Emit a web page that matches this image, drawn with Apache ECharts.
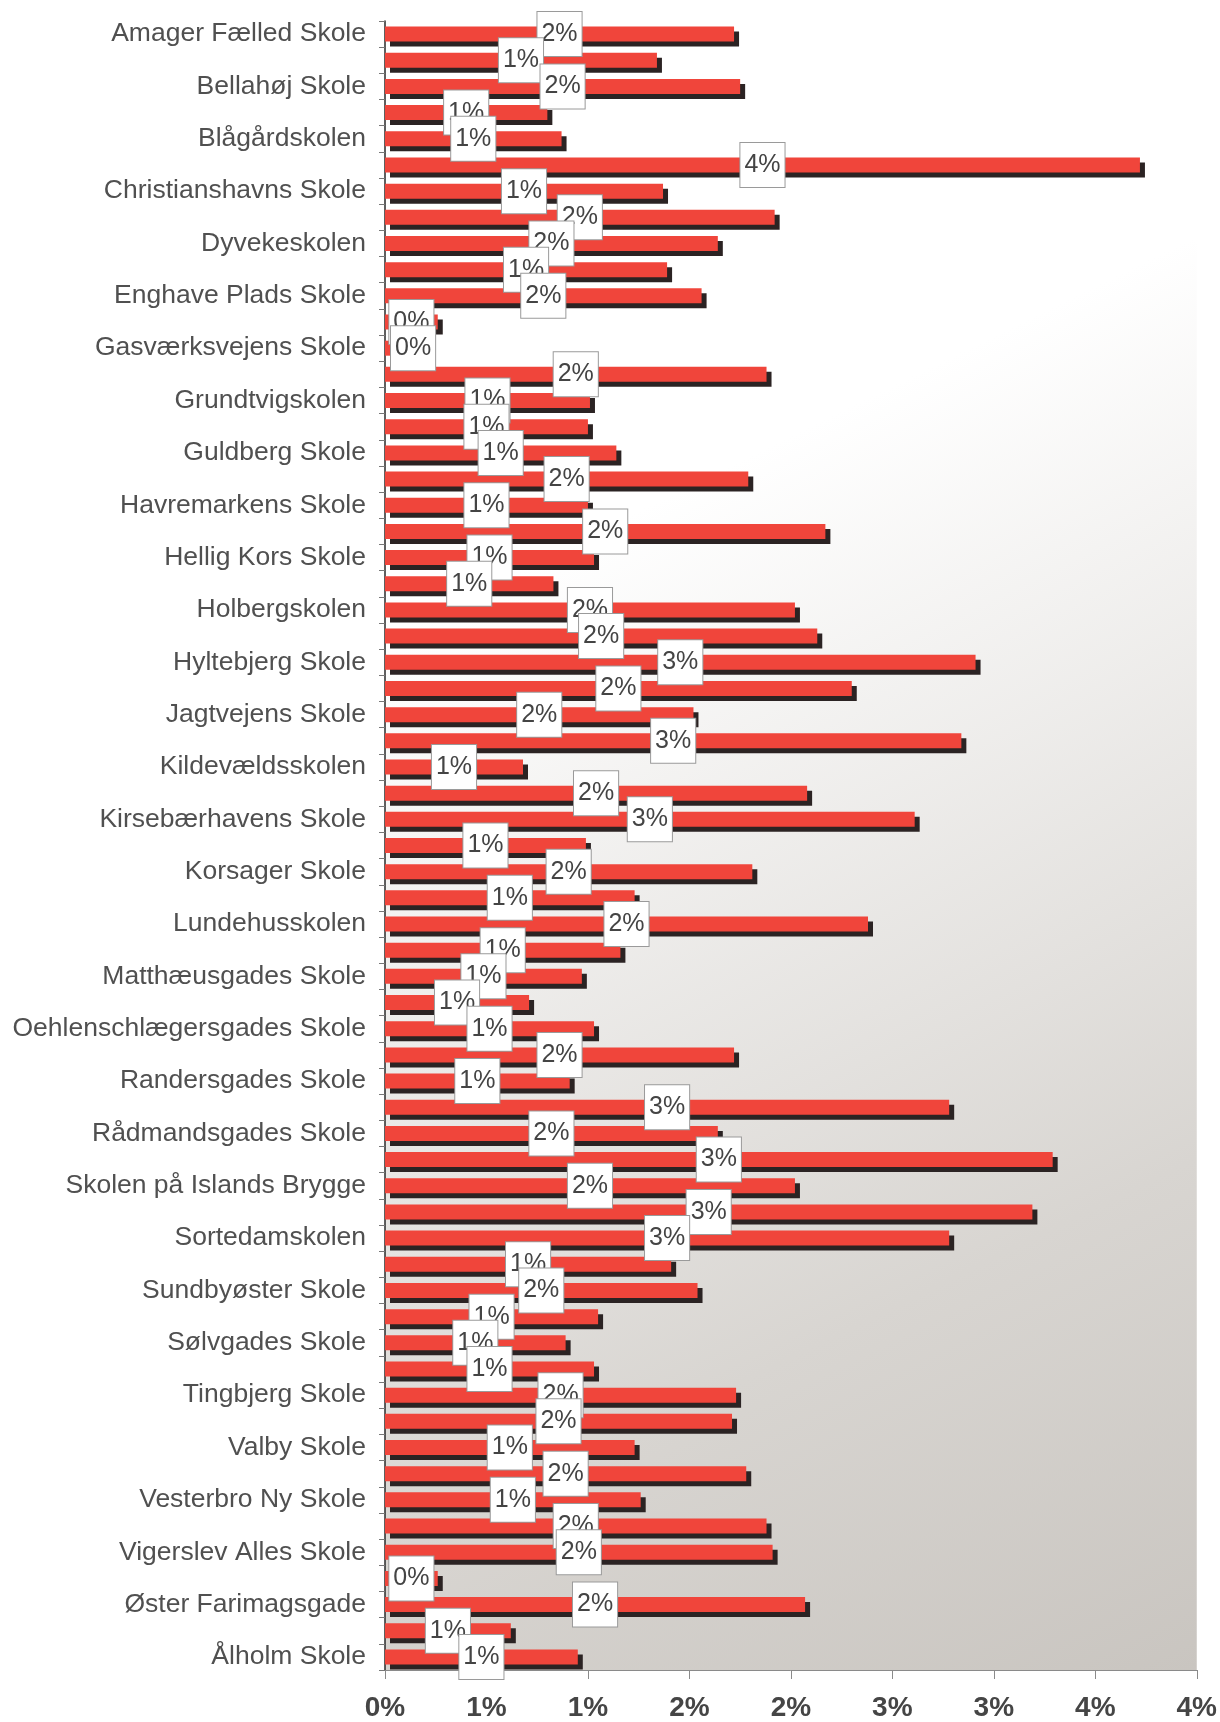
<!DOCTYPE html>
<html>
<head>
<meta charset="utf-8">
<script src="https://cdn.jsdelivr.net/npm/echarts@6/dist/echarts.min.js"></script>
<style>
html,body{margin:0;padding:0;background:#fff;}
#chart{width:1220px;height:1722px;}
</style>
</head>
<body>
<div id="chart"></div>
<script>
// Categories (only every other one is labelled on the axis)
const categories = [
  'Amager Fælled Skole','Bavnehøj Skole','Bellahøj Skole','Bellevueskolen','Blågårdskolen','Brønshøj Skole',
  'Christianshavns Skole','Classensgades Skole','Dyvekeskolen','Ellebjerg Skole','Enghave Plads Skole','Frederiksholm Skole',
  'Gasværksvejens Skole','Gerbrandskolen','Grundtvigskolen','Grøndalsvængets Skole','Guldberg Skole','Hanssted Skole',
  'Havremarkens Skole','Heibergskolen','Hellig Kors Skole','Hillerødgades Skole','Holbergskolen','Husum Skole',
  'Hyltebjerg Skole','Højdevangens Skole','Jagtvejens Skole','Katrinedals Skole','Kildevældsskolen','Kirkebjerg Skole',
  'Kirsebærhavens Skole','Kløverparkens Skole','Korsager Skole','Lergravsvejens Skole','Lundehusskolen','Lykkebo Skole',
  'Matthæusgades Skole','Nørrebro Park Skole','Oehlenschlægersgades Skole','Peder Lykke Skolen','Randersgades Skole','Rødkilde Skole',
  'Rådmandsgades Skole','Sankt Annæ Skole','Skolen på Islands Brygge','Skolen ved Sundet','Sortedamskolen','Strandvejsskolen',
  'Sundbyøster Skole','Sundparkens Skole','Sølvgades Skole','Tagensbo Skole','Tingbjerg Skole','Utterslev Skole',
  'Valby Skole','Vanløse Skole','Vesterbro Ny Skole','Vibenshus Skole','Vigerslev Alles Skole','Voldparkens Skole',
  'Øster Farimagsgade','Østrigsgades Skole','Ålholm Skole'
];

// Values in percent
const values = [
  1.72, 1.34, 1.75, 0.80, 0.87, 3.72,
  1.37, 1.92, 1.64, 1.39, 1.56, 0.26,
  0.03, 1.88, 1.01, 1.00, 1.14, 1.79,
  1.00, 2.17, 1.03, 0.83, 2.02, 2.13,
  2.91, 2.30, 1.52, 2.84, 0.68, 2.08,
  2.61, 0.99, 1.81, 1.23, 2.38, 1.16,
  0.97, 0.71, 1.03, 1.72, 0.91, 2.78,
  1.64, 3.29, 2.02, 3.19, 2.78, 1.41,
  1.54, 1.05, 0.89, 1.03, 1.73, 1.71,
  1.23, 1.78, 1.26, 1.88, 1.91, 0.26,
  2.07, 0.62, 0.95
];

// X axis tick labels (Excel-style rounded 0% format)
const xTickValues = [0, 0.5, 1, 1.5, 2, 2.5, 3, 3.5, 4];
const xTickLabels = ['0%', '1%', '1%', '2%', '2%', '3%', '3%', '4%', '4%'];

const chart = echarts.init(document.getElementById('chart'), null, {renderer: 'canvas'});

const seriesData = values.map(v => v < 0.1
  ? {value: v, label: {position: 'insideLeft', distance: 6}}
  : v);

const option = {
  backgroundColor: '#ffffff',
  animation: false,
  grid: {
    left: 385, right: 23, top: 21, bottom: 52,
    show: true,
    borderWidth: 0,
    backgroundColor: new echarts.graphic.LinearGradient(0, 0, 1, 1, [
      {offset: 0, color: '#ffffff'},
      {offset: 0.3, color: '#ffffff'},
      {offset: 0.75, color: '#d8d5d1'},
      {offset: 1, color: '#c9c5c0'}
    ])
  },
  xAxis: {
    type: 'value',
    min: xTickValues[0],
    max: xTickValues[xTickValues.length - 1],
    interval: 0.5,
    splitLine: {show: false},
    axisLine: {show: true, lineStyle: {color: '#8a8a8a', width: 1}},
    axisTick: {show: true, length: 9, lineStyle: {color: '#8a8a8a'}},
    axisLabel: {
      margin: 24,
      color: '#454545',
      fontSize: 28,
      fontWeight: 'bold',
      fontFamily: "'Liberation Sans Narrow', 'Arial Narrow', 'Liberation Sans', Arial, sans-serif",
      formatter: function (v) {
        const i = xTickValues.indexOf(Math.round(v * 2) / 2);
        return i >= 0 ? xTickLabels[i] : '';
      }
    }
  },
  yAxis: {
    type: 'category',
    data: categories,
    inverse: true,
    axisLine: {show: true, lineStyle: {color: '#2a2a2a', width: 1.5}},
    axisTick: {show: true, interval: 0, length: 6, lineStyle: {color: '#777777'}},
    axisLabel: {
      interval: 1,
      margin: 19,
      color: '#505050',
      fontSize: 26.5,
      fontFamily: "'Liberation Sans', Arial, sans-serif"
    }
  },
  series: [{
    type: 'bar',
    data: seriesData,
    barWidth: 15,
    itemStyle: {
      color: '#f0453b',
      borderWidth: 0,
      shadowColor: '#2b2323',
      shadowOffsetX: 5,
      shadowOffsetY: 5,
      shadowBlur: 0
    },
    label: {
      show: true,
      position: 'inside',
      formatter: function (p) { return Math.round(p.value) + '%'; },
      color: '#444444',
      fontSize: 25,
      fontFamily: "'Liberation Sans', Arial, sans-serif",
      lineHeight: 26,
      backgroundColor: '#ffffff',
      borderColor: '#9a9a9a',
      borderWidth: 1,
      padding: [9, 4, 9, 4]
    }
  }]
};

chart.setOption(option);
</script>
</body>
</html>
